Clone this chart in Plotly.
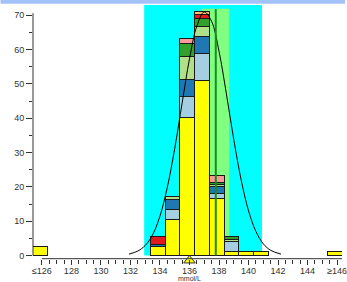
import plotly.graph_objects as go
import numpy as np

# ---------------- data ----------------
bins = [126, 134, 135, 136, 137, 138, 139, 140, 141, 146]
yellow     = [2.5, 2.5, 10.4, 40.1, 51.1, 16.5, 1.1, 1.3, 1.3, 1.3]
lightblue  = [0, 0, 2.9, 6.1, 7.8, 1.7, 2.9, 0, 0, 0]
darkblue   = [0, 0.8, 3.1, 5.0, 4.9, 2.0, 0, 0, 0, 0]
lightgreen = [0, 0, 0.9, 6.9, 3.0, 0.4, 0.7, 0, 0, 0]
darkgreen  = [0, 0, 0, 3.7, 2.2, 0.7, 0.7, 0, 0, 0]
pink       = [0, 0, 0, 1.5, 0, 1.9, 0, 0, 0, 0]
red        = [0, 2.1, 0, 0, 1.2, 0, 0, 0, 0, 0]
orange     = [0, 0, 0, 0, 0.8, 0, 0, 0, 0, 0]

series = [
    ("yellow", yellow, "#ffff00"),
    ("lightblue", lightblue, "#a6cee3"),
    ("darkblue", darkblue, "#1f78b4"),
    ("lightgreen", lightgreen, "#b2df8a"),
    ("darkgreen", darkgreen, "#33a02c"),
    ("pink", pink, "#fb9a99"),
    ("red", red, "#e31a1c"),
    ("orange", orange, "#fdbf6f"),
]

curve_x = [131.9, 132.5, 133.0, 133.5, 134.0, 134.5, 135.0, 135.5, 136.0, 136.5, 137.0,
           137.5, 138.0, 138.5, 139.0, 139.5, 140.0, 140.5, 141.0, 141.5, 142.2]
curve_y = [0.4, 1.3, 2.9, 6.0, 11.5, 19.9, 31.2, 44.4, 57.3, 66.9, 71.0,
           68.2, 59.5, 47.1, 33.8, 22.0, 13.0, 7.0, 3.4, 1.5, 0.4]

ref_range = [132.93, 140.91]      # cyan band
target_range = [136.82, 138.69]   # light green band
target_top = 71.9
target_line = 137.78
mean_marker = 136.0

tick_vals = [126, 128, 130, 132, 134, 136, 138, 140, 142, 144, 146]
tick_text = ["≤126", "128", "130", "132", "134", "136", "138", "140", "142", "144", "≥146"]

# ---------------- figure ----------------
W, H = 347, 282
mt, mb = 5, 20
ph = H - mt - mb
xpos = 3.3 / ph

fig = go.Figure()
for name, vals, col in series:
    fig.add_trace(go.Bar(
        x=bins, y=vals, name=name, width=1, offset=-0.65,
        marker=dict(color=col, line=dict(color="#1a1a1a", width=1)),
        hoverinfo="skip"))

fig.add_trace(go.Scatter(x=curve_x, y=curve_y, mode="lines", line=dict(color="black", width=1, shape="spline"),
                         hoverinfo="skip"))
fig.add_trace(go.Scatter(x=[mean_marker], y=[-1.45], mode="markers", cliponaxis=False,
                         marker=dict(symbol="triangle-up", size=10, color="#ffff00",
                                     line=dict(color="#333", width=1)),
                         hoverinfo="skip"))

shapes = [
    dict(type="rect", xref="paper", yref="paper", x0=0 - 33 / 314, x1=1.01, y0=1.005, y1=1.05,
         fillcolor="#a3c2f7", line=dict(width=0), layer="below"),
    dict(type="rect", xref="x", yref="y", x0=ref_range[0], x1=ref_range[1], y0=0, y1=73.0,
         fillcolor="#00ffff", line=dict(width=0), layer="below"),
    dict(type="rect", xref="x", yref="y", x0=target_range[0], x1=target_range[1], y0=0, y1=target_top,
         fillcolor="#80ff80", line=dict(width=0), layer="below"),
    dict(type="line", xref="x", yref="y", x0=target_line, x1=target_line, y0=0, y1=target_top - 0.1,
         line=dict(color="#1a8c1a", width=2), layer="above"),
    dict(type="line", xref="paper", yref="y", x0=0, x1=0, y0=0, y1=70.6,
         line=dict(color="#333", width=1)),
    dict(type="line", xref="x", yref="paper", x0=126, x1=146.6, y0=xpos, y1=xpos,
         line=dict(color="#333", width=1)),
]

fig.update_layout(
    width=W, height=H, margin=dict(l=33, r=0, t=mt, b=mb),
    barmode="stack", showlegend=False,
    plot_bgcolor="white", paper_bgcolor="white",
    font=dict(family="Liberation Sans, Arial, sans-serif", size=9, color="#333"),
    shapes=shapes,
    xaxis=dict(range=[125.4, 146.33], anchor="free", position=xpos,
               showline=False, showgrid=False, zeroline=False,
               tickmode="array", tickvals=tick_vals, ticktext=tick_text,
               ticks="outside", ticklen=5, tickcolor="#333", tickwidth=1,
               ticklabeloverflow="allow", ticklabelstandoff=-2,
               minor=dict(tickmode="array", tickvals=list(np.arange(126.5, 146.5, 0.5)),
                          ticks="outside", ticklen=4, tickcolor="#333", tickwidth=1),
               tickfont=dict(size=9, color="#333")),
    yaxis=dict(range=[-1.9, 73.0], domain=[0, 1],
               showline=False, showgrid=False, zeroline=False,
               tickvals=list(range(0, 71, 10)),
               ticks="outside", ticklen=6, tickcolor="#333", tickwidth=1,
               minor=dict(tickmode="array", tickvals=list(range(5, 70, 10)),
                          ticks="outside", ticklen=3, tickcolor="#333", tickwidth=1),
               tickfont=dict(size=9, color="#333")),
    annotations=[dict(x=136, xref="x", y=(xpos * ph - 19.5) / ph, yref="paper",
                      text="mmol/L", showarrow=False, font=dict(size=7, color="#333"),
                      yanchor="middle")],
)

fig.write_html("out.html", config={"displayModeBar": False},
               post_script="document.body.style.margin='0px';document.body.style.overflow='hidden';")
